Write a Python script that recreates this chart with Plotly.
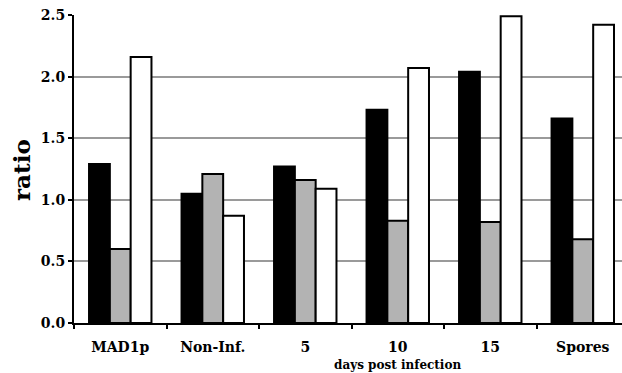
import plotly.graph_objects as go

categories = ["MAD1p", "Non-Inf.", "5", "10", "15", "Spores"]
black_vals = [1.29, 1.05, 1.27, 1.73, 2.04, 1.66]
gray_vals = [0.60, 1.21, 1.16, 0.83, 0.82, 0.68]
white_vals = [2.16, 0.87, 1.09, 2.07, 2.49, 2.42]
y_ticks = [0.0, 0.5, 1.0, 1.5, 2.0, 2.5]
y_tick_text = ["0.0", "0.5", "1.0", "1.5", "2.0", "2.5"]

FONT = "DejaVu Serif"

fig = go.Figure()
for vals, color in [(black_vals, "#000000"), (gray_vals, "#b3b3b3"), (white_vals, "#ffffff")]:
    fig.add_trace(go.Bar(
        x=categories, y=vals,
        marker=dict(color=color, line=dict(color="#000000", width=2)),
        showlegend=False,
    ))

fig.update_layout(
    width=622, height=373,
    margin=dict(l=74, r=0, t=15, b=50),
    paper_bgcolor="white", plot_bgcolor="white",
    barmode="group", bargap=0.325, bargroupgap=0,
    font=dict(family=FONT, size=14, color="black"),
    xaxis=dict(
        type="category", range=[-0.5, 5.424],
        showline=True, linecolor="black", linewidth=2,
        ticks="outside", tickson="boundaries", ticklen=4, tickwidth=2, tickcolor="black",
        tickfont=dict(family=FONT, size=14, weight="bold"),
        ticklabelstandoff=10,
        showgrid=False, zeroline=False,
    ),
    yaxis=dict(
        range=[0, 2.5], tickvals=y_ticks, ticktext=y_tick_text,
        showline=True, linecolor="black", linewidth=2,
        ticks="outside", ticklen=4, tickwidth=2, tickcolor="black",
        tickfont=dict(family=FONT, size=14, weight="bold"),
        showgrid=True, gridcolor="#9a9a9a", gridwidth=1.5,
        zeroline=False,
    ),
    annotations=[
        dict(text="ratio", x=21, y=170, showarrow=False,
             textangle=-90, font=dict(family=FONT, size=23, weight="bold")),
        dict(text="days post infection", x=397, y=365, showarrow=False,
             font=dict(family=FONT, size=12, weight="bold")),
    ],
)

# convert pixel annotation positions to paper coordinates
pw = 622 - 74
ph = 373 - 15 - 50
for a in fig.layout.annotations:
    a.x = (a.x - 74) / pw
    a.y = (373 - 50 - a.y) / ph
    a.xref = "paper"; a.yref = "paper"
    a.xanchor = "center"; a.yanchor = "middle"
fig.write_html("out.html")
